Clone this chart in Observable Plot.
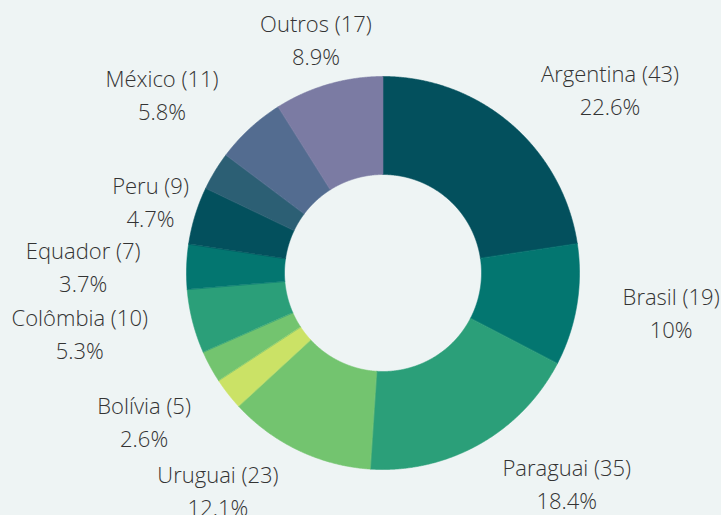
<!DOCTYPE html>
<html><head><meta charset="utf-8">
<script src="https://cdn.jsdelivr.net/npm/d3@7"></script>
<script src="https://cdn.jsdelivr.net/npm/@observablehq/plot@0.6"></script>
<style>
html,body{margin:0;padding:0;background:#eef4f4;}
#chart{width:721px;height:515px;overflow:hidden;}
</style>
</head><body><div id="chart"></div>
<script>
// ---- data (clockwise from 12 o'clock) ----
const categories = ["Argentina","Brasil","Paraguai","Uruguai","Bolívia","(sem rótulo A)","Colômbia","Equador","Peru","(sem rótulo B)","México","Outros"];
const counts     = [43, 19, 35, 23, 5, 5, 10, 7, 9, 6, 11, 17];
const showLabel  = [true,true,true,true,true,false,true,true,true,false,true,true];
const colors     = ["#03505d","#037670","#2b9f79","#73c46f","#cbe266","#73c46f","#2b9f79","#037670","#03505d","#2c5f74","#536c90","#7b7ba3"];

// ---- layout ----
const W = 721, H = 515, cx = 382.5, cy = 272.5, R = 196.5, r0 = 98.5, RL = 285;
// label nudges (px) from the radial anchor at RL
const labelShift = [[41,34],[7,-6],[44,-36],[-42,-38],[-14,-25],[0,0],[-27,-8],[-15,4],[40,14],[0,0],[-28,33],[12,42]];

const total = d3.sum(counts);
const fmt = d3.format(".1~f");
const pie = d3.pie().sort(null).value(d => d)(counts);

const points = [];
const labels = [];
pie.forEach((s, i) => {
  const a0 = s.startAngle, a1 = s.endAngle;
  const n = Math.max(2, Math.ceil((a1 - a0) / (Math.PI / 720)));
  for (let k = 0; k <= n; k++) {
    const a = a0 + (a1 - a0) * k / n;
    points.push({key: i, color: colors[i], x: cx + R * Math.sin(a), y: cy - R * Math.cos(a)});
  }
  for (let k = n; k >= 0; k--) {
    const a = a0 + (a1 - a0) * k / n;
    points.push({key: i, color: colors[i], x: cx + r0 * Math.sin(a), y: cy - r0 * Math.cos(a)});
  }
  if (showLabel[i]) {
    const m = (a0 + a1) / 2;
    labels.push({
      x: cx + RL * Math.sin(m) + labelShift[i][0],
      y: cy - RL * Math.cos(m) + labelShift[i][1],
      text: `${categories[i]} (${counts[i]})\n${fmt(counts[i] / total * 100)}%`
    });
  }
});

const chart = Plot.plot({
  width: W, height: H, margin: 0,
  style: {background: "#eef4f4", fontFamily: "'Open Sans', sans-serif", overflow: "visible"},
  x: {type: "identity", axis: null},
  y: {type: "identity", axis: null},
  color: {type: "identity"},
  marks: [
    Plot.line(points, {x: "x", y: "y", z: "key", fill: "color", stroke: "color", strokeWidth: 0.6, curve: "linear-closed"}),
    Plot.text(labels, {x: "x", y: "y", dy: -3, text: "text", fontSize: 22, lineHeight: 1.5, fill: "#333333", fontWeight: 300})
  ]
});
document.getElementById("chart").append(chart);
</script>
</body></html>
